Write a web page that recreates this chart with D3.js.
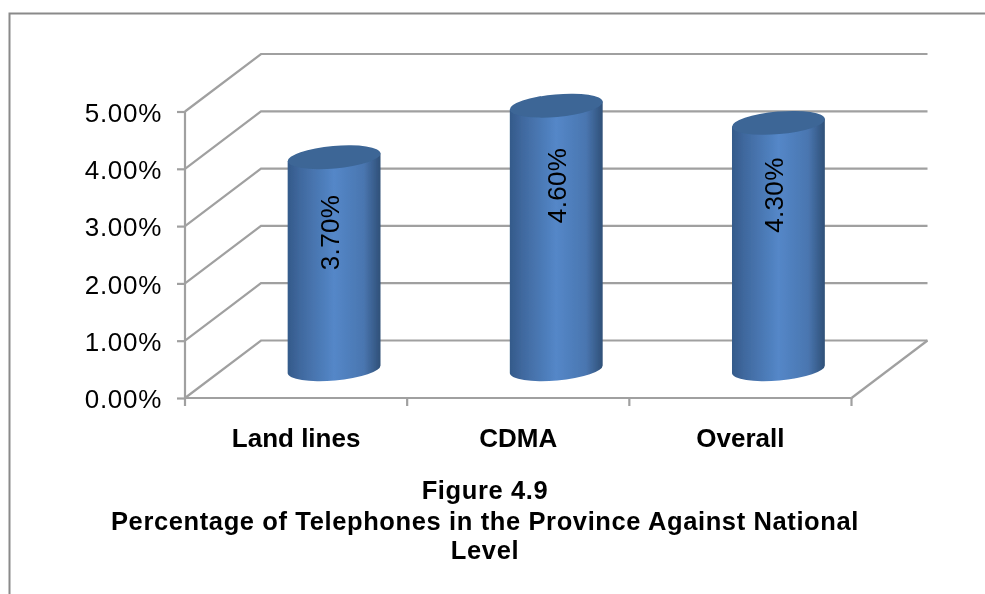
<!DOCTYPE html>
<html><head><meta charset="utf-8">
<script src="https://cdnjs.cloudflare.com/ajax/libs/d3/7.8.5/d3.min.js"></script>
<style>html,body{margin:0;padding:0;background:#fff}svg{display:block}text{font-family:"Liberation Sans",Arial,sans-serif;fill:#000}</style>
</head><body><svg id="c" width="985" height="594"></svg>
<script>
const categories = ["Land lines","CDMA","Overall"];
const values = [0.037,0.046,0.043];
const yTicks = [0,0.01,0.02,0.03,0.04,0.05];
const titleLines = ["Figure 4.9","Percentage of Telephones in the Province Against National","Level"];

// layout-only label nudges (not data)
const labelDx = [4.5,10,5];
const labelDy = [46.5,51,43.5];

const svg = d3.select("#c");
const defs = svg.append("defs");
const grad = defs.append("linearGradient").attr("id","body").attr("x1",0).attr("x2",1).attr("y1",0).attr("y2",0);
[[0,"#345a8a"],[0.14,"#40699f"],[0.5,"#5487c8"],[0.82,"#4a76b0"],[1,"#2f5078"]].forEach(d=>grad.append("stop").attr("offset",d[0]).attr("stop-color",d[1]));
defs.append("filter").attr("id","soft").attr("x","-5%").attr("y","-5%").attr("width","110%").attr("height","110%")
  .append("feGaussianBlur").attr("stdDeviation",0.55);

// frame
svg.append("path").attr("d","M9.5 594V13.5H985").attr("fill","none").attr("stroke","#8a8a8a").attr("stroke-width",2);

const y = d3.scaleLinear().domain([0,0.05]).range([398,111.5]);
const x = d3.scaleBand().domain(categories).range([185,851.5]);
const depthX = 76, depthY = -57.5;
const grey = "#a0a0a0";
const g = svg.append("g").attr("filter","url(#soft)");

// walls
yTicks.forEach(t=>{
  g.append("path").attr("fill","none").attr("stroke",grey).attr("stroke-width",2.2)
    .attr("d",`M${x.range()[0]} ${y(t)}L${x.range()[0]+depthX} ${y(t)+depthY}H${x.range()[1]+depthX}`);
});
g.append("path").attr("fill","none").attr("stroke",grey).attr("stroke-width",2.2)
  .attr("d",`M${x.range()[1]} ${y(0)}L${x.range()[1]+depthX} ${y(0)+depthY}`);

// axes
const ay = g.append("g").attr("transform",`translate(${x.range()[0]},0)`)
  .call(d3.axisLeft(y).tickValues(yTicks).tickFormat(d3.format(".2%")).tickSize(8).tickPadding(15));
ay.selectAll("path,line").attr("stroke",grey).attr("stroke-width",2.2);
ay.select(".domain").attr("d",`M0 ${y(0)+8}V${y(0.05)}`);
ay.selectAll("text").attr("font-size",26).attr("dy","0.37em").style("font-family","'Liberation Sans'").style("letter-spacing","0.7px").attr("fill","#000");
const ax = g.append("g").attr("transform",`translate(0,${y(0)})`)
  .call(d3.axisBottom(x).tickSize(0).tickPadding(0));
ax.select(".domain").attr("stroke",grey).attr("stroke-width",2.2).attr("d",`M${x.range()[0]} 0H${x.range()[1]}`);
ax.selectAll("text").attr("font-size",26).attr("font-weight","bold").attr("dy",0).attr("y",49).style("font-family","'Liberation Sans'").attr("fill","#000");
ax.selectAll("line").remove();
x.domain().forEach(c=>{
  g.append("line").attr("x1",x(c)+x.bandwidth()).attr("x2",x(c)+x.bandwidth()).attr("y1",y(0)).attr("y2",y(0)+8).attr("stroke",grey).attr("stroke-width",2.2);
});

// cylinders
const rx = 46.6, ry = 11.3, tilt = -5;
const rad = tilt*Math.PI/180;
const hw = rx*Math.cos(rad), hh = rx*Math.sin(rad);
categories.forEach((c,i)=>{
  const cx = x(c)+x.bandwidth()/2+depthX/2;
  const by = y(0)+depthY/2;
  const ty = y(values[i])+depthY/2;
  g.append("path").attr("fill","url(#body)")
    .attr("d",`M${cx-hw} ${ty-hh}L${cx-hw} ${by-hh}A${rx} ${ry} ${tilt} 0 0 ${cx+hw} ${by+hh}L${cx+hw} ${ty+hh}Z`);
  g.append("ellipse").attr("cx",cx).attr("cy",ty).attr("rx",rx).attr("ry",ry)
    .attr("transform",`rotate(${tilt} ${cx} ${ty})`).attr("fill","#3c6696");
  g.append("text").attr("transform",`translate(${cx+labelDx[i]},${y(values[i])+labelDy[i]}) rotate(-90)`)
    .attr("text-anchor","middle").attr("font-size",26).style("letter-spacing","0.35px").text(d3.format(".2%")(values[i]));
});

// title
titleLines.forEach((t,i)=>{
  g.append("text").attr("x",485).attr("y",[499,529.5,558.5][i]).attr("text-anchor","middle")
    .attr("font-size",25.5).attr("font-weight","bold").style("letter-spacing","0.62px").text(t);
});
</script></body></html>
